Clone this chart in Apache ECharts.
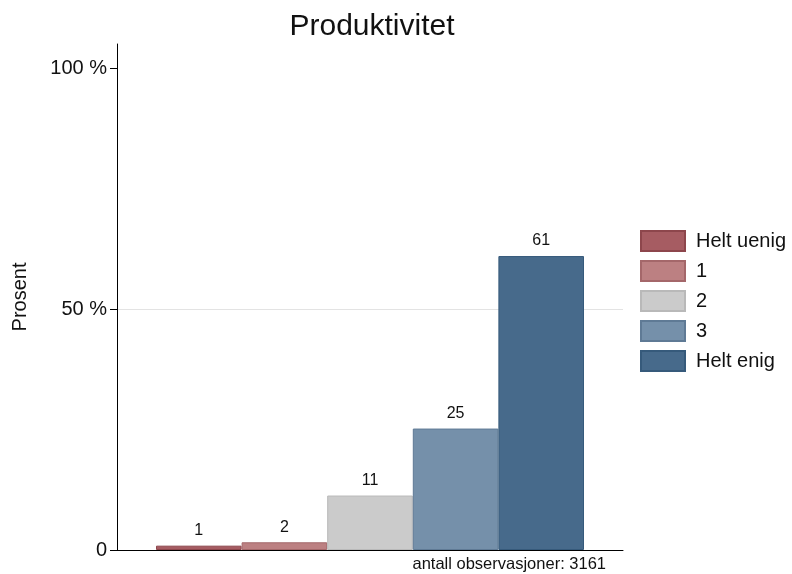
<!DOCTYPE html>
<html><head><meta charset="utf-8">
<script src="https://cdn.jsdelivr.net/npm/echarts@6/dist/echarts.min.js"></script>
<style>html,body{margin:0;padding:0;background:#fff}#c{width:792px;height:574px}</style>
</head><body><div id="c"></div>
<script>
const seriesNames = ['Helt uenig', '1', '2', '3', 'Helt enig'];
const values = [0.9, 1.6, 11.3, 25.2, 61.0];
const valueLabels = ['1', '2', '11', '25', '61'];
const yTicks = [0, 50, 100];
const colors = ['#a65c62', '#bc8082', '#cbcbcb', '#7590aa', '#476a8b'];
const borders = ['#8d464c', '#a4676a', '#b9b9b9', '#5f7a95', '#365a7b'];
const title = 'Produktivitet';
const note = 'antall observasjoner: 3161';

const chart = echarts.init(document.getElementById('c'));
const font = 'Liberation Sans, Arial, sans-serif';
const series = seriesNames.map((n, i) => ({
  name: n, type: 'bar', data: [values[i]],
  barWidth: 85.6, barGap: '0%',
  itemStyle: { color: colors[i], borderColor: borders[i], borderWidth: 1 },
  label: { show: true, position: 'top', distance: 7, formatter: () => valueLabels[i], fontFamily: font, fontSize: 16, color: '#111' },
  markLine: i === 0 ? { silent: true, symbol: 'none', z: 0, label: { show: false },
    lineStyle: { color: '#e3e3e3', width: 1, type: 'solid' }, data: [{ yAxis: 50 }] } : undefined,
  z: 3
}));
chart.setOption({
  animation: false,
  title: { text: title, left: 367, textAlign: 'center', top: 7, textStyle: { fontFamily: font, fontSize: 30, fontWeight: 'normal', color: '#111' } },
  graphic: [{ type: 'text', right: 186, top: 556, style: { text: note, fontFamily: font, fontSize: 16.5, fill: '#111' } }],
  legend: { orient: 'vertical', left: 640, top: 230, padding: 0, itemWidth: 44, itemHeight: 20, itemGap: 8,
    icon: 'rect', textStyle: { fontFamily: font, fontSize: 20, color: '#111', padding: [0, 0, 0, 6] },
    data: seriesNames },
  grid: { left: 117, right: 169, top: 44, bottom: 24 },
  xAxis: { type: 'category', data: [''], axisLine: { lineStyle: { color: '#000', width: 1 } }, axisTick: { show: false }, axisLabel: { show: false } },
  yAxis: { type: 'value', min: 0, max: 105, name: 'Prosent', nameLocation: 'middle', nameGap: 87,
    nameTextStyle: { fontFamily: font, fontSize: 20, color: '#111' },
    axisLine: { show: true, lineStyle: { color: '#000', width: 1 } },
    axisTick: { show: true, length: 7, customValues: yTicks, lineStyle: { color: '#000' } },
    axisLabel: { customValues: yTicks, fontFamily: font, fontSize: 20, color: '#111', margin: 10,
      formatter: v => v === 0 ? '0' : v + ' %' },
    splitLine: { show: false } },
  series: series
});
</script></body></html>
